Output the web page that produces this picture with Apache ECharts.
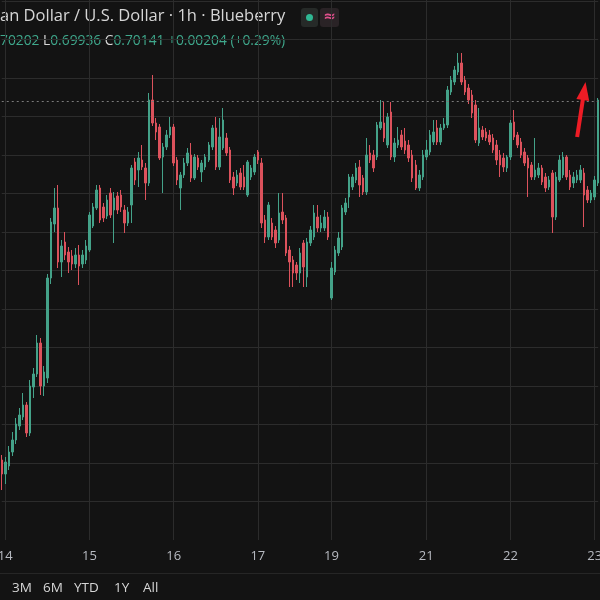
<!DOCTYPE html>
<html><head><meta charset="utf-8">
<script src="https://cdn.jsdelivr.net/npm/echarts@6/dist/echarts.min.js"></script>
<style>html,body{margin:0;padding:0;background:#131313;}#chart{width:600px;height:600px;}</style>
</head><body><div id="chart"></div>
<script>
// hourly sessions: [day, first hour, last hour]
const sessions = [['13',23,23],['14',0,23],['15',0,23],['16',0,23],['17',0,20],['19',21,23],['20',0,23],['21',0,23],['22',0,23],['23',0,1]];
const dayTicks = ['14 00:00','15 00:00','16 00:00','17 00:00','19 21:00','21 00:00','22 00:00','23 00:00'];

const openP = [0.69315,0.69245,0.69285,0.69355,0.69415,0.69485,0.69530,0.69590,0.69450,0.69680,
0.69745,0.69900,0.69685,0.69725,0.70225,0.70495,0.70575,0.70305,0.70405,0.70355,
0.70335,0.70295,0.70340,0.70295,0.70315,0.70365,0.70485,0.70575,0.70675,0.70580,
0.70535,0.70650,0.70565,0.70635,0.70640,0.70565,0.70500,0.70590,0.70805,0.70765,
0.70815,0.70775,0.70700,0.71115,0.71000,0.70980,0.70830,0.70880,0.70940,0.70980,
0.70815,0.70675,0.70740,0.70800,0.70840,0.70725,0.70825,0.70755,0.70780,0.70815,
0.70880,0.70975,0.70780,0.70875,0.70925,0.70865,0.70730,0.70700,0.70750,0.70730,
0.70640,0.70730,0.70755,0.70855,0.70800,0.70515,0.70430,0.70500,0.70465,0.70415,
0.70555,0.70525,0.70365,0.70315,0.70290,0.70250,0.70400,0.70230,0.70400,0.70430,
0.70530,0.70475,0.70475,0.70530,0.70125,0.70255,0.70350,0.70380,0.70555,0.70630,
0.70680,0.70715,0.70780,0.70725,0.70655,0.70850,0.70840,0.70830,0.70975,0.71000,
0.70890,0.71055,0.70830,0.70890,0.70940,0.70910,0.70890,0.70840,0.70790,0.70675,
0.70730,0.70830,0.70855,0.70905,0.70975,0.70905,0.70975,0.70990,0.71155,0.71205,
0.71255,0.71300,0.71215,0.71175,0.71140,0.71090,0.70900,0.70965,0.70955,0.70940,
0.70925,0.70890,0.70840,0.70825,0.70775,0.70830,0.71005,0.70940,0.70905,0.70855,
0.70825,0.70790,0.70730,0.70740,0.70775,0.70730,0.70680,0.70750,0.70530,0.70715,
0.70740,0.70830,0.70740,0.70700,0.70715,0.70715,0.70750,0.70665,0.70615,0.70630,
0.70700];
const closeP = [0.69245,0.69305,0.69355,0.69415,0.69495,0.69540,0.69590,0.69450,0.69685,0.69745,
0.69900,0.69685,0.69755,0.70225,0.70505,0.70575,0.70305,0.70385,0.70340,0.70305,
0.70295,0.70340,0.70285,0.70340,0.70385,0.70540,0.70580,0.70665,0.70515,0.70525,
0.70615,0.70540,0.70625,0.70565,0.70580,0.70500,0.70555,0.70775,0.70715,0.70825,
0.70780,0.70700,0.71115,0.71000,0.70955,0.70825,0.70880,0.70940,0.70980,0.70800,
0.70715,0.70740,0.70800,0.70850,0.70725,0.70830,0.70780,0.70800,0.70830,0.70890,
0.70975,0.70780,0.70930,0.71015,0.70850,0.70715,0.70675,0.70740,0.70680,0.70680,
0.70805,0.70775,0.70830,0.70815,0.70500,0.70430,0.70590,0.70430,0.70400,0.70550,
0.70515,0.70350,0.70305,0.70250,0.70250,0.70350,0.70280,0.70405,0.70465,0.70550,
0.70475,0.70500,0.70530,0.70430,0.70275,0.70365,0.70425,0.70575,0.70600,0.70730,
0.70730,0.70775,0.70690,0.70655,0.70840,0.70815,0.70775,0.70990,0.71005,0.70925,
0.71030,0.70830,0.70900,0.70915,0.70880,0.70865,0.70825,0.70725,0.70675,0.70740,
0.70840,0.70865,0.70940,0.70955,0.70905,0.70975,0.70995,0.71165,0.71215,0.71265,
0.71300,0.71205,0.71155,0.71115,0.71050,0.70915,0.70975,0.70930,0.70925,0.70905,
0.70865,0.70815,0.70790,0.70780,0.70830,0.71000,0.70930,0.70890,0.70840,0.70800,
0.70775,0.70730,0.70765,0.70775,0.70705,0.70675,0.70715,0.70530,0.70730,0.70815,
0.70830,0.70730,0.70680,0.70730,0.70740,0.70765,0.70640,0.70615,0.70650,0.70715,
0.71115];
const highP = [0.69340,0.69330,0.69385,0.69455,0.69525,0.69575,0.69650,0.69605,0.69715,0.69775,
0.69940,0.69925,0.69785,0.70245,0.70525,0.70675,0.70690,0.70415,0.70455,0.70380,
0.70365,0.70375,0.70390,0.70365,0.70415,0.70555,0.70600,0.70690,0.70690,0.70600,
0.70640,0.70675,0.70655,0.70655,0.70665,0.70590,0.70580,0.70790,0.70825,0.70855,
0.70890,0.70800,0.71150,0.71240,0.71025,0.70995,0.70900,0.70965,0.71030,0.70995,
0.70830,0.70755,0.70825,0.70875,0.70900,0.70845,0.70840,0.70815,0.70845,0.70905,
0.70990,0.71030,0.71025,0.71075,0.70950,0.70880,0.70755,0.70765,0.70775,0.70790,
0.70815,0.70790,0.70845,0.70865,0.70825,0.70540,0.70605,0.70525,0.70485,0.70650,
0.70650,0.70540,0.70385,0.70335,0.70305,0.70375,0.70415,0.70425,0.70485,0.70590,
0.70590,0.70540,0.70565,0.70555,0.70305,0.70385,0.70455,0.70590,0.70625,0.70745,
0.70745,0.70800,0.70815,0.70740,0.70925,0.70890,0.70865,0.71005,0.71115,0.71105,
0.71050,0.71105,0.70925,0.70980,0.70965,0.70975,0.70915,0.70865,0.70815,0.70765,
0.70865,0.70915,0.70965,0.71015,0.71015,0.70995,0.71025,0.71185,0.71235,0.71285,
0.71350,0.71350,0.71235,0.71195,0.71165,0.71115,0.71075,0.70985,0.70975,0.70965,
0.70945,0.70915,0.70865,0.70850,0.70840,0.71015,0.71065,0.70955,0.70925,0.70875,
0.70840,0.70805,0.70925,0.70800,0.70790,0.70750,0.70735,0.70765,0.70755,0.70840,
0.70855,0.70840,0.70765,0.70755,0.70765,0.70790,0.70775,0.70685,0.70665,0.70735,
0.71125];
const lowP = [0.69165,0.69195,0.69265,0.69335,0.69395,0.69465,0.69515,0.69430,0.69435,0.69625,
0.69730,0.69640,0.69635,0.69700,0.70195,0.70455,0.70275,0.70230,0.70315,0.70250,
0.70265,0.70275,0.70190,0.70275,0.70295,0.70355,0.70475,0.70565,0.70500,0.70505,
0.70520,0.70525,0.70400,0.70545,0.70555,0.70450,0.70485,0.70500,0.70690,0.70680,
0.70765,0.70615,0.70685,0.70985,0.70915,0.70815,0.70650,0.70865,0.70925,0.70785,
0.70690,0.70565,0.70725,0.70785,0.70705,0.70715,0.70765,0.70705,0.70765,0.70805,
0.70865,0.70765,0.70765,0.70865,0.70835,0.70700,0.70640,0.70685,0.70665,0.70665,
0.70630,0.70715,0.70740,0.70795,0.70475,0.70400,0.70415,0.70415,0.70375,0.70400,
0.70495,0.70335,0.70180,0.70180,0.70215,0.70200,0.70180,0.70180,0.70385,0.70415,
0.70455,0.70455,0.70460,0.70415,0.70115,0.70240,0.70335,0.70365,0.70540,0.70575,
0.70665,0.70700,0.70630,0.70640,0.70640,0.70800,0.70755,0.70815,0.70965,0.70905,
0.70875,0.70815,0.70805,0.70875,0.70865,0.70845,0.70805,0.70705,0.70665,0.70660,
0.70715,0.70815,0.70840,0.70890,0.70890,0.70890,0.70965,0.70975,0.71140,0.71190,
0.71240,0.71190,0.71140,0.71095,0.71025,0.70900,0.70885,0.70915,0.70910,0.70890,
0.70850,0.70790,0.70730,0.70755,0.70755,0.70815,0.70915,0.70875,0.70825,0.70785,
0.70630,0.70715,0.70715,0.70725,0.70690,0.70655,0.70665,0.70450,0.70515,0.70705,
0.70725,0.70715,0.70665,0.70675,0.70700,0.70700,0.70480,0.70600,0.70600,0.70615,
0.70685];

const refLinePrice = 0.71110;           // dotted horizontal price line
const arrowStart = [164, 0.70930];      // [candle index, price]
const arrowEnd = [166, 0.71160];

const categories = [];
sessions.forEach(([d, h0, h1]) => {
  for (let h = h0; h <= h1; h++) categories.push(d + ' ' + String(h).padStart(2, '0') + ':00');
});
const ohlc = categories.map((c, i) => [openP[i], closeP[i], lowP[i], highP[i]]);
const isDayTick = (idx, v) => dayTicks.includes(v);

const UP = '#44a289', DOWN = '#dc525c';
const TXT = '#d6d6d6';
const chart = echarts.init(document.getElementById('chart'), null, {renderer: 'canvas'});
chart.setOption({
  backgroundColor: '#131313',
  animation: false,
  grid: {left: 1.75, right: 1.8, top: 0, bottom: 60, containLabel: false, outerBoundsMode: 'none'},
  xAxis: {
    type: 'category', data: categories, boundaryGap: false,
    axisLine: {show: false}, axisTick: {show: false},
    axisLabel: {interval: isDayTick, formatter: v => v.split(' ')[0], color: '#b8bbc2',
      fontSize: 13, fontFamily: 'Open Sans', margin: 10, hideOverlap: false},
    splitLine: {show: true, interval: isDayTick, lineStyle: {color: '#2c2c2c', width: 1}}
  },
  yAxis: {
    type: 'value', position: 'right', min: 0.68915, max: 0.71615, interval: 0.001925,
    axisLine: {show: false}, axisTick: {show: false}, axisLabel: {show: false},
    splitLine: {show: true, showMinLine: false, showMaxLine: false, lineStyle: {color: '#2c2c2c', width: 1}}
  },
  series: [{
    type: 'candlestick', data: ohlc, barWidth: 2, clip: false,
    itemStyle: {color: UP, color0: DOWN, borderColor: UP, borderColor0: DOWN, borderWidth: 1},
    markLine: {
      silent: true, animation: false, symbol: ['none', 'none'], precision: 5,
      label: {show: false},
      data: [
        {yAxis: refLinePrice, lineStyle: {type: [2, 3], color: '#7a7a7a', width: 1}},
        [
          {coord: [categories[arrowStart[0]], arrowStart[1]], symbol: 'none', lineStyle: {color: '#ee1c25', width: 4, type: 'solid'}},
          {coord: [categories[arrowEnd[0]], arrowEnd[1]], symbol: 'triangle', symbolSize: [13, 18]}
        ]
      ]
    }
  }],
  graphic: [
    {type: 'text', left: 0, top: 8, style: {text: 'an Dollar / U.S. Dollar · 1h · Blueberry', fill: TXT, font: '16.5px "Open Sans"'}},
    {type: 'rect', shape: {x: 301, y: 8, width: 17, height: 19, r: 3}, style: {fill: '#262a28'}},
    {type: 'circle', shape: {cx: 309.5, cy: 17.5, r: 3.5}, style: {fill: '#2fb893'}},
    {type: 'rect', shape: {x: 320, y: 8, width: 19, height: 19, r: 3}, style: {fill: '#2a2326'}},
    {type: 'text', x: 329.5, y: 17.5, style: {text: '≈', fill: '#e0508c', font: 'bold 15px "DejaVu Sans"', align: 'center', verticalAlign: 'middle'}},
    {type: 'text', left: 0, top: 34, style: {
      text: '{g|70202} {w|L}{g|0.69936} {w|C}{g|0.70141} {g|+0.00204 (+0.29%)}',
      font: '13.8px "Open Sans"',
      rich: {g: {fill: '#3fa88c', font: '13.8px "Open Sans"'}, w: {fill: TXT, font: '13.8px "Open Sans"'}}
    }},
    {type: 'rect', shape: {x: 0, y: 573, width: 600, height: 1}, style: {fill: '#262626'}},
    {type: 'text', left: 12, top: 581, style: {text: '3M', fill: TXT, font: '13.5px "Open Sans"'}},
    {type: 'text', left: 43, top: 581, style: {text: '6M', fill: TXT, font: '13.5px "Open Sans"'}},
    {type: 'text', left: 74, top: 581, style: {text: 'YTD', fill: TXT, font: '13.5px "Open Sans"'}},
    {type: 'text', left: 114, top: 581, style: {text: '1Y', fill: TXT, font: '13.5px "Open Sans"'}},
    {type: 'text', left: 143, top: 581, style: {text: 'All', fill: TXT, font: '13.5px "Open Sans"'}}
  ]
});
</script></body></html>
